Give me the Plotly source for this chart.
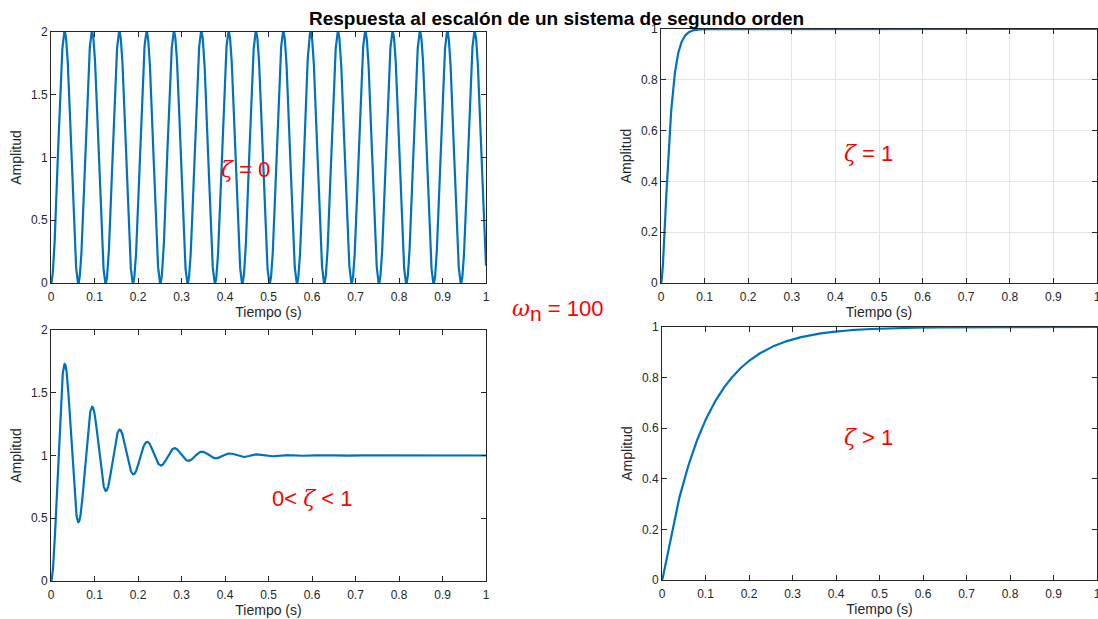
import numpy as np
import plotly.graph_objects as go

# System parameters shown on the figure
omega_n = 100.0
zetas = [0.0, 1.0, 0.1, 5.0]
ZETA = '<span style="font-family:DejaVu Serif"><i>ζ</i></span>'
zeta_labels = [f"{ZETA} = 0", f"{ZETA} = 1", f"0< {ZETA} < 1", f"{ZETA} > 1"]
y_ranges = [[0, 2], [0, 1], [0, 2], [0, 1]]
y_dticks = [0.5, 0.2, 0.5, 0.2]
x_ticks = [0, 0.1, 0.2, 0.3, 0.4, 0.5, 0.6, 0.7, 0.8, 0.9, 1]

t = np.linspace(0, 1, 4001)


def step_response(zeta, wn, t):
    """Unit step response of wn^2 / (s^2 + 2 zeta wn s + wn^2)."""
    if zeta == 0:
        return 1 - np.cos(wn * t)
    if zeta < 1:
        wd = wn * np.sqrt(1 - zeta ** 2)
        phi = np.arccos(zeta)
        return 1 - np.exp(-zeta * wn * t) / np.sqrt(1 - zeta ** 2) * np.sin(wd * t + phi)
    if zeta == 1:
        return 1 - (1 + wn * t) * np.exp(-wn * t)
    r = np.sqrt(zeta ** 2 - 1)
    s1 = -wn * (zeta - r)
    s2 = -wn * (zeta + r)
    return 1 + (s2 * np.exp(s1 * t) - s1 * np.exp(s2 * t)) / (s1 - s2)


W, H = 1098, 619
# panel boxes in pixels: (left, right, top, bottom)
boxes = [(51, 486, 32, 283), (661, 1097, 29, 283), (51, 486, 330, 581), (662, 1097, 327, 580)]
label_pos = [(245, 170), (868, 153), (312, 498), (868, 437)]
grid_on = [False, True, False, False]

AX = "#262626"
FONT = "Liberation Sans"

fig = go.Figure()
layout = dict(
    width=W, height=H,
    margin=dict(l=0, r=0, t=0, b=0, autoexpand=False),
    paper_bgcolor="white", plot_bgcolor="white",
    showlegend=False,
    font=dict(family=FONT, size=12, color=AX),
)
annotations = []

for i, (zeta, box) in enumerate(zip(zetas, boxes)):
    n = i + 1
    xa = "xaxis" if n == 1 else f"xaxis{n}"
    ya = "yaxis" if n == 1 else f"yaxis{n}"
    xr = "x" if n == 1 else f"x{n}"
    yr = "y" if n == 1 else f"y{n}"
    l, r, tp, b = box
    fig.add_trace(go.Scatter(
        x=t, y=step_response(zeta, omega_n, t), mode="lines",
        line=dict(color="#0072BD", width=2.2), xaxis=xr, yaxis=yr,
        hoverinfo="skip",
    ))
    common = dict(
        showline=True, linecolor=AX, linewidth=1, mirror="ticks",
        ticks="inside", ticklen=5, tickcolor=AX, tickwidth=1,
        zeroline=False, showgrid=grid_on[i], gridcolor="#e3e3e3", gridwidth=1,
        tickfont=dict(size=12, color=AX, family=FONT), automargin=False,
        ticklabeloverflow="allow",
    )
    layout[xa] = dict(
        common, domain=[l / W, r / W], range=[0, 1], tickvals=x_ticks,
        ticktext=[f"{v:g}" for v in x_ticks], anchor=yr, ticklabelstandoff=3,
        title=dict(text="Tiempo (s)", font=dict(size=14, color=AX), standoff=3),
    )
    layout[ya] = dict(
        common, domain=[1 - b / H, 1 - tp / H], range=y_ranges[i],
        dtick=y_dticks[i], anchor=xr,
        title=dict(text="Amplitud", font=dict(size=14, color=AX), standoff=6),
    )
    lx, ly = label_pos[i]
    annotations.append(dict(
        x=lx / W, y=1 - ly / H, xref="paper", yref="paper", text=zeta_labels[i],
        xanchor="center", yanchor="middle",
        showarrow=False, font=dict(size=22, color="#ff0000", family=FONT),
    ))

annotations.append(dict(
    x=557 / W, y=1 - 310 / H, xref="paper", yref="paper",
    text=('<span style="font-family:DejaVu Serif"><i>ω</i></span>'
          '<sub><span style="font-size:21px">n</span></sub> = 100'),
    xanchor="center", yanchor="middle",
    showarrow=False, font=dict(size=22, color="#ff0000", family=FONT),
))
annotations.append(dict(
    x=556 / W, y=1 - 18 / H, xref="paper", yref="paper",
    text="<b>Respuesta al escalón de un sistema de segundo orden</b>",
    xanchor="center", yanchor="middle",
    showarrow=False, font=dict(size=19, color="black", family=FONT),
))
layout["annotations"] = annotations
fig.update_layout(**layout)
fig.write_html("out.html")
